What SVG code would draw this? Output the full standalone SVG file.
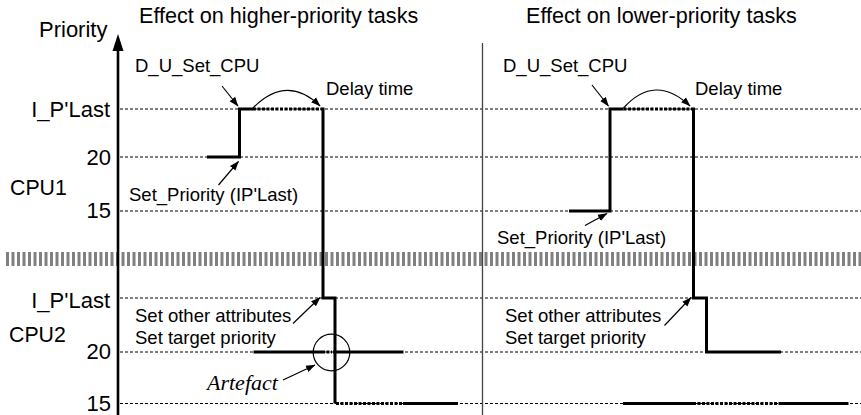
<svg xmlns="http://www.w3.org/2000/svg" width="861" height="415" viewBox="0 0 861 415">
<defs>
<marker id="ah" markerWidth="10" markerHeight="8" refX="9" refY="4" orient="auto" markerUnits="userSpaceOnUse">
<path d="M0,0.5 L9.5,4 L0,7.5 Z" fill="#000"/>
</marker>
</defs>
<style>
.t{font-family:"Liberation Sans",Arial,Helvetica,sans-serif;fill:#000}
.title{font-size:21.6px}
.lab{font-size:18.5px}
.big{font-size:22px}
.cpu{font-size:21.3px}
.art{font-family:"Liberation Serif","Times New Roman",serif;font-style:italic;font-size:22px;fill:#000}
.grid{stroke:#000;stroke-width:1;stroke-dasharray:3 2;fill:none}
.thick{stroke:#000;stroke-width:3;fill:none;stroke-linecap:butt;stroke-linejoin:miter}
.dot{stroke:#000;stroke-width:3;fill:none;stroke-dasharray:3 1.5}
.thin{stroke:#000;stroke-width:1.2;fill:none}
</style>
<rect width="861" height="415" fill="#fff"/>

<g id="grid">
<line class="grid" x1="120" y1="109" x2="861" y2="109"/>
<line class="grid" x1="120" y1="157" x2="861" y2="157"/>
<line class="grid" x1="120" y1="211" x2="861" y2="211"/>
<line class="grid" x1="120" y1="298" x2="861" y2="298"/>
<line class="grid" x1="120" y1="352" x2="861" y2="352"/>
<line class="grid" x1="120" y1="403.5" x2="861" y2="403.5"/>
</g>

<g id="separator">
<line x1="6" y1="259" x2="861" y2="259" stroke="#808080" stroke-width="14" stroke-dasharray="3 2.5"/>
</g>

<g id="divider">
<line x1="482.5" y1="43" x2="482.5" y2="415" stroke="#444" stroke-width="1.3"/>
</g>

<g id="axis">
<line x1="118" y1="48" x2="118" y2="415" stroke="#000" stroke-width="2.6"/>
<path d="M118,34 L123.5,51 L112.5,51 Z" fill="#000"/>
<text class="t" x="39" y="37" style="font-size:22px">Priority</text>
</g>

<g id="titles">
<text class="t title" x="139" y="23">Effect on higher-priority tasks</text>
<text class="t title" x="526" y="23">Effect on lower-priority tasks</text>
</g>

<g id="ylabels">
<text class="t big" x="110" y="117" text-anchor="end">I_P'Last</text>
<text class="t big" x="111" y="165" text-anchor="end">20</text>
<text class="t cpu" x="10" y="195">CPU1</text>
<text class="t big" x="111" y="218" text-anchor="end">15</text>
<text class="t big" x="110" y="308" text-anchor="end">I_P'Last</text>
<text class="t cpu" x="9" y="342">CPU2</text>
<text class="t big" x="111" y="359" text-anchor="end">20</text>
<text class="t big" x="111" y="411" text-anchor="end">15</text>
</g>

<g id="left-trace">
<path class="thick" d="M207,157 H239.5 V109 H253"/>
<line class="dot" x1="253" y1="109" x2="322" y2="109"/>
<path class="thick" d="M323,107.5 V298 H335 V403.5"/>
<line class="dot" x1="336" y1="403.5" x2="403" y2="403.5"/>
<line class="thick" x1="403" y1="403.5" x2="458" y2="403.5"/>
<line class="thick" x1="253.5" y1="352" x2="322" y2="352"/>
<line class="dot" x1="322" y1="352" x2="332" y2="352"/>
<line class="thick" x1="333" y1="352" x2="403.5" y2="352"/>
<circle cx="331.5" cy="352.5" r="18.3" class="thin"/>
</g>

<g id="right-trace">
<path class="thick" d="M569,211 H610 V109 H623.5"/>
<line class="dot" x1="623.5" y1="109" x2="692" y2="109"/>
<path class="thick" d="M693.5,107.5 V298 H706.5 V352 H781"/>
<line class="thick" x1="623" y1="403.5" x2="693" y2="403.5"/>
<line class="dot" x1="693" y1="403.5" x2="780" y2="403.5"/>
<line class="thick" x1="780" y1="403.5" x2="848.5" y2="403.5"/>
</g>

<g id="connectors">
<line class="thin" x1="222" y1="86" x2="238" y2="106" marker-end="url(#ah)"/>
<path class="thin" d="M253,108 Q287,74 320,106" marker-end="url(#ah)"/>
<line class="thin" x1="218.5" y1="185" x2="238.5" y2="161.5" marker-end="url(#ah)"/>
<line class="thin" x1="293" y1="323.5" x2="320" y2="297.5" marker-end="url(#ah)"/>
<line class="thin" x1="283" y1="380" x2="315" y2="365" marker-end="url(#ah)"/>
<line class="thin" x1="592" y1="85" x2="608.5" y2="106" marker-end="url(#ah)"/>
<path class="thin" d="M623.5,108 Q655,73 690,106" marker-end="url(#ah)"/>
<line class="thin" x1="585" y1="225.5" x2="607" y2="213.5" marker-end="url(#ah)"/>
<line class="thin" x1="664.5" y1="325.5" x2="691" y2="297.5" marker-end="url(#ah)"/>
</g>

<g id="labels">
<text class="t lab" x="135" y="72">D_U_Set_CPU</text>
<text class="t lab" x="326" y="95">Delay time</text>
<text class="t lab" x="129" y="201">Set_Priority (IP'Last)</text>
<text class="t lab" x="135" y="322">Set other attributes</text>
<text class="t lab" x="135" y="343.5">Set target priority</text>
<text class="art" x="207" y="390">Artefact</text>
<text class="t lab" x="503" y="72">D_U_Set_CPU</text>
<text class="t lab" x="695" y="95">Delay time</text>
<text class="t lab" x="497" y="244">Set_Priority (IP'Last)</text>
<text class="t lab" x="505" y="322">Set other attributes</text>
<text class="t lab" x="505" y="343.5">Set target priority</text>
</g>
</svg>
